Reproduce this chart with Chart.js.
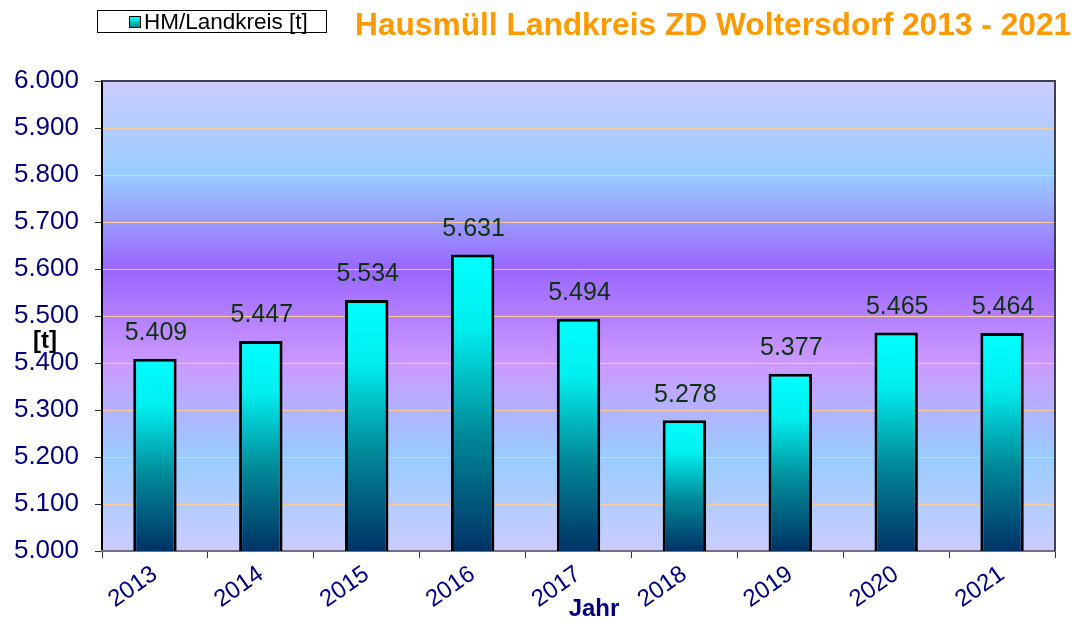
<!DOCTYPE html>
<html>
<head>
<meta charset="utf-8">
<script src="https://cdn.jsdelivr.net/npm/chart.js@4.4.1/dist/chart.umd.min.js"></script>
<style>
  html, body { margin: 0; padding: 0; background: #fff; }
  #wrap { position: relative; width: 1078px; height: 622px; }
  #legend {
    position: absolute; left: 97px; top: 10px; width: 230px; height: 23px;
    border: 1px solid #000; background: #fff; box-sizing: border-box;
    font: 22.5px Arial, 'Liberation Sans', sans-serif; color: #000;
    display: flex; align-items: center; padding-left: 31px; line-height: 21px;
  }
  #legend span.mk {
    display: inline-block; width: 10px; height: 10px; border: 1px solid #000;
    background: linear-gradient(#00ffff, #008b8b); margin-right: 3px;
  }
  #title {
    position: absolute; left: 355px; top: 6px; line-height: 32px;
    font: bold 31.7px Arial, 'Liberation Sans', sans-serif; color: #ff9900;
    white-space: nowrap;
  }
</style>
</head>
<body>
<div id="wrap">
  <canvas id="c" width="1078" height="622"></canvas>
  <div id="legend"><span class="mk"></span>HM/Landkreis [t]</div>
  <div id="title">Hausmüll Landkreis ZD Woltersdorf 2013 - 2021</div>
</div>
<script>
const years = ['2013', '2014', '2015', '2016', '2017', '2018', '2019', '2020', '2021'];
const tonnen = [5409, 5447, 5534, 5631, 5494, 5278, 5377, 5465, 5464];
const yMin = 5000;
const yMax = 6000;
const yStep = 100;

const fmt = v => (v / 1000).toFixed(3);

// Hintergrund im Diagrammbereich + Rahmen
const plotBg = {
  id: 'plotBg',
  beforeDraw(chart) {
    const { ctx, chartArea: a } = chart;
    const g = ctx.createLinearGradient(0, a.top, 0, a.bottom);
    g.addColorStop(0, '#ccccff');
    g.addColorStop(0.2, '#99ccff');
    g.addColorStop(0.4, '#9966ff');
    g.addColorStop(0.6, '#cc99ff');
    g.addColorStop(0.8, '#99ccff');
    g.addColorStop(1, '#ccccff');
    ctx.save();
    ctx.fillStyle = g;
    ctx.fillRect(a.left, a.top, a.right - a.left, a.bottom - a.top);
    ctx.restore();
  },
  afterDraw(chart) {
    const { ctx, chartArea: a } = chart;
    ctx.save();
    ctx.strokeStyle = '#404050';
    ctx.lineWidth = 2;
    ctx.beginPath();
    ctx.moveTo(a.left, a.top);
    ctx.lineTo(a.right, a.top);
    ctx.lineTo(a.right, a.bottom);
    ctx.stroke();
    // Achsentitel
    ctx.fillStyle = '#000';
    ctx.font = 'bold 24px Arial, "Liberation Sans", sans-serif';
    ctx.textAlign = 'center';
    ctx.textBaseline = 'middle';
    ctx.fillText('[t]', 45, 341);
    ctx.fillStyle = '#000080';
    ctx.fillText('Jahr', 594, 609);
    ctx.restore();
  }
};

// Werte über den Balken
const valueLabels = {
  id: 'valueLabels',
  afterDatasetsDraw(chart) {
    const { ctx } = chart;
    const meta = chart.getDatasetMeta(0);
    ctx.save();
    ctx.fillStyle = '#0d330d';
    ctx.font = '25px Arial, "Liberation Sans", sans-serif';
    ctx.textAlign = 'center';
    ctx.textBaseline = 'bottom';
    meta.data.forEach((bar, i) => {
      ctx.fillText(fmt(tonnen[i]), bar.x + 1, bar.y - 13);
    });
    ctx.restore();
  }
};

function barFill(context) {
  const chart = context.chart;
  const a = chart.chartArea;
  if (!a || context.type !== 'data') return '#00cccc';
  const top = chart.scales.y.getPixelForValue(context.raw);
  const g = chart.ctx.createLinearGradient(0, top, 0, a.bottom);
  g.addColorStop(0, '#00ffff');
  g.addColorStop(0.25, '#00eeee');
  g.addColorStop(0.6, '#008b99');
  g.addColorStop(1, '#003366');
  return g;
}

new Chart(document.getElementById('c'), {
  type: 'bar',
  data: {
    labels: years,
    datasets: [{
      label: 'HM/Landkreis [t]',
      data: tonnen,
      backgroundColor: barFill,
      borderColor: '#000',
      borderWidth: 3,
      borderSkipped: false,
      categoryPercentage: 1,
      barPercentage: 0.41
    }]
  },
  options: {
    responsive: false,
    animation: false,
    layout: { padding: { left: 0, right: 23, top: 81, bottom: 0 } },
    plugins: {
      legend: { display: false },
      title: { display: false },
      tooltip: { enabled: false }
    },
    scales: {
      y: {
        min: yMin,
        max: yMax,
        afterFit: s => { s.width = 102; },
        ticks: {
          stepSize: yStep,
          color: '#000080',
          padding: 16,
          font: { family: 'Arial, "Liberation Sans", sans-serif', size: 26 },
          callback: v => fmt(v)
        },
        grid: { color: '#ffcc99', tickColor: '#303030', tickLength: 7, lineWidth: 1 },
        border: { color: '#000', width: 2 }
      },
      x: {
        afterFit: s => { s.height = 71; },
        ticks: {
          color: '#000080',
          maxRotation: 35,
          minRotation: 35,
          padding: 2,
          font: { family: 'Arial, "Liberation Sans", sans-serif', size: 24 }
        },
        grid: { drawOnChartArea: false, tickColor: '#303030', tickLength: 7, offset: true },
        border: { color: '#707080', width: 2 }
      }
    }
  },
  plugins: [plotBg, valueLabels]
});
</script>
</body>
</html>
